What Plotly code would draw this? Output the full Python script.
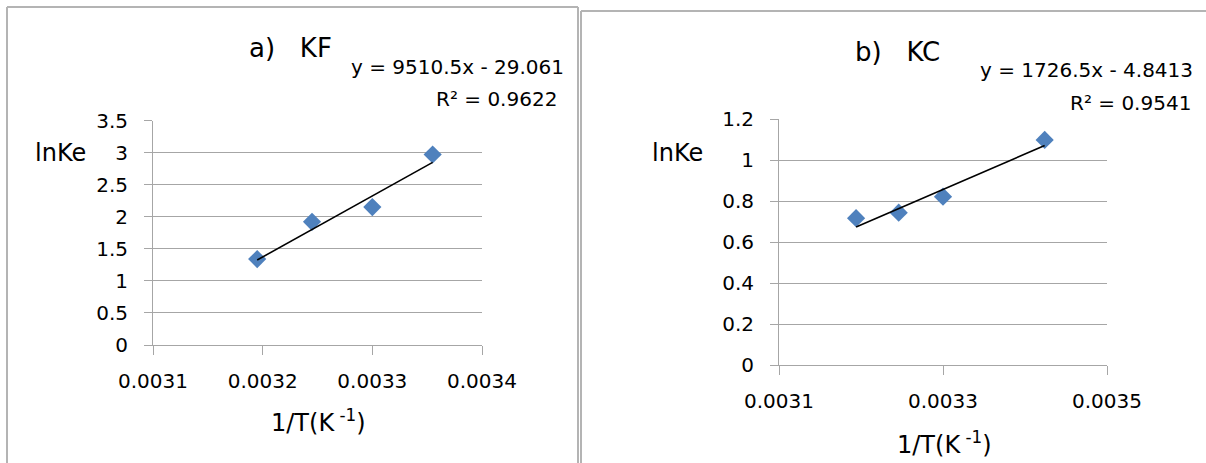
import plotly.graph_objects as go

# ---------------- data ----------------
kf_x = [0.003195, 0.003245, 0.003300, 0.003355]
kf_y = [1.34, 1.92, 2.15, 2.97]
kf_slope = 9510.5
kf_intercept = -29.061
kf_r2 = 0.9622

kc_x = [0.003194, 0.003246, 0.003300, 0.003424]
kc_y = [0.716, 0.743, 0.821, 1.098]
kc_slope = 1726.5
kc_intercept = -4.8413
kc_r2 = 0.9541

kf_title = "a)\u00a0\u00a0\u00a0KF"
kc_title = "b)\u00a0\u00a0\u00a0KC"
y_title = "lnKe"
x_title = "1/T(K<sup> -1</sup>)"

W, H = 1206, 463
FONT = "DejaVu Sans"
GRID = "#a6a6a6"
BORDER = "#b4b4b4"
BLUE = "#4f81bd"


def px(x):
    return x / W


def py(y):
    return 1 - y / H


def trend(xs, m, b):
    x0, x1 = min(xs), max(xs)
    return [x0, x1], [m * x0 + b, m * x1 + b]


fig = go.Figure()

# series
fig.add_trace(go.Scatter(x=kf_x, y=kf_y, mode="markers", xaxis="x", yaxis="y",
                         marker=dict(symbol="diamond", size=14, color=BLUE, line=dict(width=0)),
                         showlegend=False, hoverinfo="skip"))
tx, ty = trend(kf_x, kf_slope, kf_intercept)
fig.add_trace(go.Scatter(x=tx, y=ty, mode="lines", xaxis="x", yaxis="y",
                         line=dict(color="black", width=1.6), showlegend=False, hoverinfo="skip"))

fig.add_trace(go.Scatter(x=kc_x, y=kc_y, mode="markers", xaxis="x2", yaxis="y2",
                         marker=dict(symbol="diamond", size=14, color=BLUE, line=dict(width=0)),
                         showlegend=False, hoverinfo="skip"))
tx2, ty2 = trend(kc_x, kc_slope, kc_intercept)
fig.add_trace(go.Scatter(x=tx2, y=ty2, mode="lines", xaxis="x2", yaxis="y2",
                         line=dict(color="black", width=1.6), showlegend=False, hoverinfo="skip"))

tickfont = dict(family=FONT, size=20, color="#000000")

common_x = dict(showgrid=False, zeroline=False, showline=True, linecolor=GRID, linewidth=1,
                ticks="outside", ticklen=9, tickcolor=GRID, tickwidth=1, automargin=False,
                tickformat=".4f", tickfont=tickfont, fixedrange=True, ticklabelstandoff=9)
common_y = dict(showgrid=True, gridcolor=GRID, gridwidth=1, zeroline=False, showline=True,
                linecolor=GRID, linewidth=1, ticks="outside", ticklen=8, tickcolor=GRID,
                tickwidth=1, tickfont=tickfont, fixedrange=True, ticklabelstandoff=12,
                automargin=False)

fig.update_layout(
    template="none",
    width=W, height=H, margin=dict(l=0, r=0, t=0, b=0, pad=0, autoexpand=False),
    paper_bgcolor="white", plot_bgcolor="white",
    xaxis=dict(common_x, domain=[px(153), px(482)], range=[0.0031, 0.0034],
               tick0=0.0031, dtick=0.0001, anchor="y"),
    yaxis=dict(common_y, domain=[py(345), py(120.5)], range=[0, 3.5], dtick=0.5, anchor="x"),
    xaxis2=dict(common_x, domain=[px(779), px(1107)], range=[0.0031, 0.0035],
                tick0=0.0031, dtick=0.0002, anchor="y2"),
    yaxis2=dict(common_y, domain=[py(365), py(119)], range=[0, 1.2], dtick=0.2, anchor="x2"),
)


def border(x0, y0, x1, y1):
    fig.add_shape(type="line", xref="paper", yref="paper", x0=px(x0), y0=py(y0), x1=px(x1), y1=py(y1),
                  line=dict(color=BORDER, width=2), layer="below")


# panel borders (left panel: left, top, right; right panel: left, top)
border(7, 7, 7, 463)
border(7, 7, 578, 7)
border(578, 7, 578, 463)
border(581, 11, 581, 463)
border(581, 11, 1206, 11)


def ann(text, x, y, size, xanchor="center"):
    fig.add_annotation(text=text, x=px(x), y=py(y), xref="paper", yref="paper",
                       xanchor=xanchor, yanchor="middle", showarrow=False,
                       font=dict(family=FONT, size=size, color="#000000"))


# left panel texts
ann(kf_title, 290, 48, 26)
ann(f"y = {kf_slope}x - {abs(kf_intercept)}", 566, 67, 20, "right")
ann(f"R\u00b2 = {kf_r2}", 559, 99, 20, "right")
ann(y_title, 60, 153, 24)
ann(x_title, 318, 421, 24)

# right panel texts
ann(kc_title, 897, 52, 26)
ann(f"y = {kc_slope}x - {abs(kc_intercept)}", 1195, 70, 20, "right")
ann(f"R\u00b2 = {kc_r2}", 1193, 103, 20, "right")
ann(y_title, 677, 153, 24)
ann(x_title, 944, 443, 24)

fig.write_html(
    "out.html",
    config={"displayModeBar": False, "staticPlot": True},
    post_script="document.documentElement.style.margin='0';document.body.style.margin='0';"
                "document.body.style.overflow='hidden';document.documentElement.style.overflow='hidden';",
)
